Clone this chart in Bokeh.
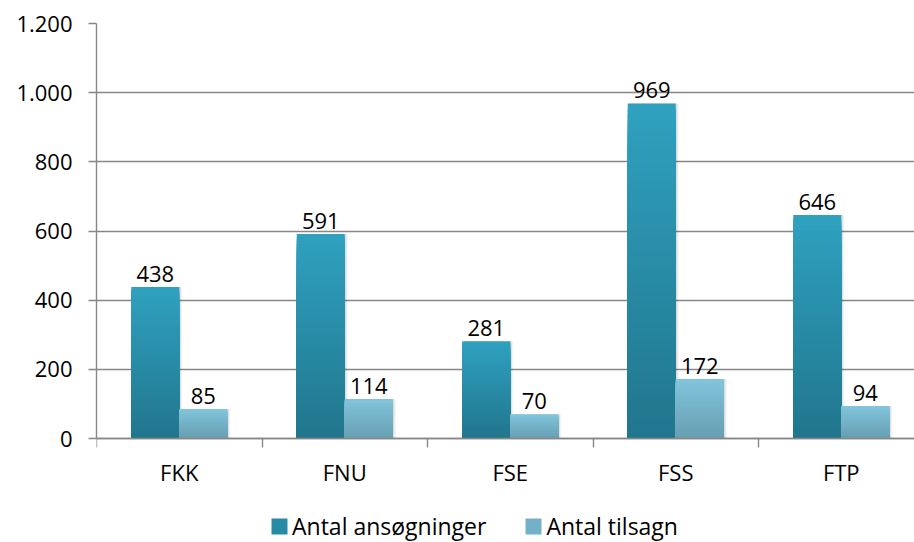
from bokeh.plotting import figure
from bokeh.models import ColumnDataSource, FixedTicker, Legend, LegendItem
from bokeh.core.properties import value
from bokeh.embed import file_html
from bokeh.resources import INLINE

categories = ["FKK", "FNU", "FSE", "FSS", "FTP"]
ansogninger = [438, 591, 281, 969, 646]
tilsagn = [85, 114, 70, 172, 94]
series_names = ["Antal ansøgninger", "Antal tilsagn"]
y_ticks = [0, 200, 400, 600, 800, 1000, 1200]
y_tick_labels = ["0", "200", "400", "600", "800", "1.000", "1.200"]

FONT = "Open Sans"
GRID = "#878787"

dark_top, dark_bot = (47, 161, 191), (33, 118, 141)
light_top, light_bot = (129, 197, 220), (104, 158, 178)

N_SLICES = 60


def hexc(c):
    return "#%02x%02x%02x" % tuple(int(round(v)) for v in c)


def gradient_source(xs, vals, top, bot, n=N_SLICES):
    d = dict(x=[], top=[], color=[])
    for x, v in zip(xs, vals):
        for k in range(n):
            t = k / (n - 1)
            c = tuple(top[j] + (bot[j] - top[j]) * t for j in range(3))
            d["x"].append(x)
            d["top"].append(v * (n - k) / n)
            d["color"].append(hexc(c))
    return ColumnDataSource(d)


FW = 818          # frame width in px
PX_PER_CAT = 165.5
PLOT_H = 415      # px from 0 to 1200
FH = 519          # frame height (extends below the zero line to hold labels/legend)
Y_MAX = 1200
y_min = -(FH - PLOT_H) * Y_MAX / PLOT_H

p = figure(
    output_backend="svg",
    toolbar_location=None,
    frame_width=FW,
    frame_height=FH,
    min_border_left=96,
    min_border_right=0,
    min_border_top=23,
    min_border_bottom=0,
    x_range=(0, FW / PX_PER_CAT),
    y_range=(y_min, Y_MAX),
    background_fill_color="white",
    border_fill_color="white",
)
p.outline_line_color = None

bw = 0.29
centers = [i + 0.5 for i in range(len(categories))]
x_dark = [c - bw / 2 for c in centers]
x_light = [c + bw / 2 for c in centers]

# soft shadows (to the right of the bars)
px = 1.0 / PX_PER_CAT
for off, a in ((3.0, 0.05), (1.6, 0.09)):
    p.vbar(x=[x + off * px for x in x_dark + x_light], top=ansogninger + tilsagn, bottom=0,
           width=bw, fill_color="black", fill_alpha=a, line_color=None)

src_d = gradient_source(x_dark, ansogninger, dark_top, dark_bot)
src_l = gradient_source(x_light, tilsagn, light_top, light_bot)
rd = p.vbar(x="x", top="top", bottom=0, width=bw, fill_color="color", line_color=None, source=src_d)
rl = p.vbar(x="x", top="top", bottom=0, width=bw, fill_color="color", line_color=None, source=src_l)

# data labels
lab_src = ColumnDataSource(dict(
    x=x_dark + x_light,
    y=ansogninger + tilsagn,
    t=[str(v) for v in ansogninger + tilsagn],
))
p.text(x="x", y="y", text="t", source=lab_src, text_align="center", text_baseline="alphabetic",
       y_offset=-13, text_font=value(FONT), text_font_size="22px", text_color="black")

# grid
p.xgrid.grid_line_color = None
p.ygrid.ticker = FixedTicker(ticks=y_ticks)
p.ygrid.grid_line_color = GRID
p.ygrid.grid_line_width = 1.4

# y axis
p.yaxis.ticker = FixedTicker(ticks=y_ticks)
p.yaxis.bounds = (0, Y_MAX)
p.yaxis.major_label_overrides = {t: l for t, l in zip(y_ticks, y_tick_labels)}
p.yaxis.axis_line_color = GRID
p.yaxis.axis_line_width = 1.4
p.yaxis.major_tick_line_color = GRID
p.yaxis.major_tick_line_width = 1.4
p.yaxis.major_tick_out = 8
p.yaxis.major_tick_in = 0
p.yaxis.minor_tick_line_color = None
p.yaxis.major_label_standoff = 16
p.yaxis.major_label_text_font = FONT
p.yaxis.major_label_text_font_size = "22px"
p.yaxis.major_label_text_color = "black"

# x axis (drawn at y = 0)
p.xaxis.fixed_location = 0
p.xaxis.ticker = FixedTicker(ticks=centers, minor_ticks=list(range(len(categories) + 1)))
p.xaxis.major_label_overrides = {c: n for c, n in zip(centers, categories)}
p.xaxis.axis_line_color = GRID
p.xaxis.axis_line_width = 1.4
p.xaxis.major_tick_line_color = None
p.xaxis.minor_tick_line_color = GRID
p.xaxis.minor_tick_line_width = 1.4
p.xaxis.minor_tick_out = 9
p.xaxis.minor_tick_in = 0
p.xaxis.major_label_standoff = 9
p.xaxis.major_label_text_font = FONT
p.xaxis.major_label_text_font_size = "22px"
p.xaxis.major_label_text_color = "black"

# legend (uses the colour from the middle of each gradient)
legend = Legend(
    items=[LegendItem(label=series_names[0], renderers=[rd], index=N_SLICES // 2),
           LegendItem(label=series_names[1], renderers=[rl], index=N_SLICES // 2)],
    location=(173, 0),
    orientation="horizontal",
    padding=0, margin=0, spacing=37,
    glyph_width=20, glyph_height=20,
    label_standoff=3,
    label_text_font=FONT, label_text_font_size="23px", label_text_color="black",
    border_line_color=None, background_fill_alpha=0,
)
p.add_layout(legend, "center")

open("out.html", "w").write(file_html(p, INLINE))
